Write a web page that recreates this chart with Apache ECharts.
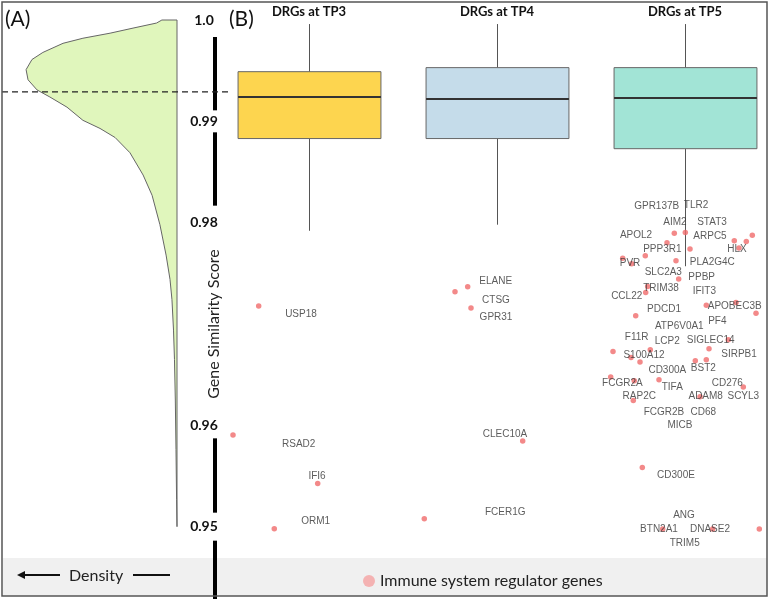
<!DOCTYPE html>
<html><head><meta charset="utf-8">
<script src="https://cdn.jsdelivr.net/npm/echarts@6/dist/echarts.min.js"></script>
<style>html,body{margin:0;padding:0;background:#fff}#c{width:770px;height:599px}</style>
</head><body><div id="c"></div>
<script>
// ---------- data ----------
const groups = ['DRGs at TP3', 'DRGs at TP4', 'DRGs at TP5'];
const boxMin    = [0.9792, 0.9798, 0.9757];
const boxQ1     = [0.9883, 0.9883, 0.9873];
const boxMedian = [0.9924, 0.9922, 0.9923];
const boxQ3     = [0.9949, 0.9953, 0.9953];
const boxMax    = [0.9996, 0.9996, 0.9996];

const refLine = 0.9929;

const tickValues = [1.0, 0.99, 0.98, 0.96, 0.95];
const tickText   = ['1.0', '0.99', '0.98', '0.96', '0.95'];
const axisTitle = 'Gene Similarity Score';
const axisTitleAt = 0.97;
// axis bar pieces run between these score values
const axisPieceFrom = [1.0, 0.99, 0.96, 0.95];
const axisPieceTo   = [0.99, 0.98, 0.95, 0.94];

// density outline (score, density)
const densityScore = [1.0, 1.0, 0.9997, 0.9992, 0.9987, 0.9982, 0.9977, 0.9968, 0.9961, 0.9951, 0.9941, 0.9931, 0.9924, 0.9914, 0.9901, 0.9893, 0.9884, 0.9869, 0.9847, 0.9827, 0.9798, 0.9768, 0.9744, 0.9724, 0.9694, 0.9665, 0.9625, 0.9576, 0.9527, 0.95];
const densityValue = [0, 5.4, 7.3, 15.7, 23.9, 33.6, 40.7, 47.9, 51.8, 53.9, 53.2, 50.0, 45.4, 39.3, 33.6, 27.5, 22.1, 16.8, 12.1, 8.9, 6.1, 3.9, 2.5, 1.8, 1.25, 0.9, 0.6, 0.36, 0.15, 0];

// immune system regulator gene points (group position with jitter, score)
const pointX = [0.7324, 1.7766, 1.8441, 1.8617, 0.5957, 2.1367, 1.0463, 1.6133, 0.8154,
  2.9431, 3.0016, 2.9043, 3.0266, 3.2622, 3.3261, 3.3580, 3.2872, 2.6686, 2.7888, 2.9521, 2.7165,
  2.9665, 2.8016, 2.7910, 3.1133, 3.2713, 3.3777, 2.7378, 3.2303, 3.1277, 2.6170, 2.8154, 2.7128,
  2.7606, 3.0548, 3.1133, 2.6048, 2.7303, 2.8617, 3.3101, 2.7250, 3.0798, 2.7729, 2.8814, 3.1473, 3.3952];
const pointY = [0.97177, 0.97318, 0.97367, 0.97157, 0.95904, 0.95845, 0.95427, 0.95079, 0.94980,
  0.97896, 0.97902, 0.97801, 0.97739, 0.97821, 0.97814, 0.97877, 0.97751, 0.97650, 0.97673, 0.97623, 0.97594,
  0.97443, 0.97370, 0.97311, 0.97186, 0.97212, 0.97107, 0.97081, 0.96844, 0.96755, 0.96729, 0.96746, 0.96670,
  0.96624, 0.96637, 0.96647, 0.96476, 0.96440, 0.96450, 0.96378, 0.96246, 0.96282, 0.95585, 0.94977, 0.94977, 0.94977];

// gene labels (name, x, score)
const geneNames = ['USP18', 'ELANE', 'CTSG', 'GPR31', 'RSAD2', 'CLEC10A', 'IFI6', 'FCER1G', 'ORM1',
  'GPR137B', 'TLR2', 'AIM2', 'STAT3', 'APOL2', 'ARPC5', 'PPP3R1', 'HLX', 'PVR', 'PLA2G4C', 'SLC2A3',
  'PPBP', 'TRIM38', 'IFIT3', 'CCL22', 'PDCD1', 'APOBEC3B', 'PF4', 'ATP6V0A1', 'F11R', 'LCP2', 'SIGLEC14',
  'SIRPB1', 'S100A12', 'CD300A', 'BST2', 'FCGR2A', 'TIFA', 'CD276', 'RAP2C', 'ADAM8', 'SCYL3', 'FCGR2B',
  'CD68', 'MICB', 'CD300E', 'ANG', 'BTN2A1', 'DNASE2', 'TRIM5'];
const geneLabelX = [0.9574, 1.9931, 1.9947, 1.9947, 0.9452, 2.0426, 1.0426, 2.0441, 1.0356,
  2.8495, 3.0585, 2.9468, 3.1436, 2.7394, 3.1330, 2.8793, 3.2766, 2.7074, 3.1452, 2.8846,
  3.0888, 2.8723, 3.1027, 2.6899, 2.8883, 3.2644, 3.1718, 2.9697, 2.7431, 2.9059, 3.1367,
  3.2872, 2.7819, 2.9059, 3.0973, 2.6670, 2.9324, 3.2250, 2.7569, 3.1101, 3.3101, 2.8883,
  3.0973, 2.9734, 2.9521, 2.9947, 2.8617, 3.1330, 2.9984];
const geneLabelY = [0.97098, 0.97426, 0.97239, 0.97071, 0.95812, 0.95910, 0.95500, 0.95145, 0.95049,
  0.98166, 0.98176, 0.98005, 0.98005, 0.97877, 0.97870, 0.97735, 0.97735, 0.97597, 0.97607, 0.97512,
  0.97463, 0.97354, 0.97327, 0.97275, 0.97143, 0.97173, 0.97032, 0.96982, 0.96867, 0.96828, 0.96837,
  0.96706, 0.96689, 0.96541, 0.96565, 0.96417, 0.96374, 0.96417, 0.96285, 0.96285, 0.96285, 0.96131,
  0.96131, 0.95996, 0.95503, 0.95111, 0.94970, 0.94970, 0.94832];

// ---------- styles ----------
const boxColors = ['#fdd54f', '#c5dcea', '#a2e4d6'];
const legendName = 'Immune system regulator genes';
const pieceGapTop = [17, 11, 13, 14];
const pieceGapBottom = [11, 17, 14, 0];

const chart = echarts.init(document.getElementById('c'));

const option = {
  backgroundColor: '#fff',
  animation: false,
  grid: [
    { left: 9, width: 168, top: 20, height: 608, outerBoundsMode: 'none', containLabel: false },
    { left: 215, width: 564, top: 20, height: 608, outerBoundsMode: 'none', containLabel: false }
  ],
  xAxis: [
    { type: 'category', gridIndex: 1, position: 'top', data: groups,
      axisLine: { show: false }, axisTick: { show: false }, splitLine: { show: false },
      axisLabel: { margin: 2, fontFamily: 'Lato', fontWeight: 'bold', fontSize: 13, color: '#111' } },
    { type: 'value', gridIndex: 1, min: 0.5, max: 3.5, show: false },
    { type: 'value', gridIndex: 0, min: 0, max: 60, inverse: true, show: false }
  ],
  yAxis: [
    { type: 'value', gridIndex: 1, min: 0.94, max: 1.0, interval: 0.01,
      axisLine: { show: false },
      axisTick: { show: false }, splitLine: { show: false },
      axisLabel: {
        margin: 11, align: 'center', fontFamily: 'Lato', fontWeight: 'bold', fontSize: 14, color: '#111',
        formatter: function (v) {
          for (let i = 0; i < tickValues.length; i++) {
            if (Math.abs(v - tickValues[i]) < 1e-6) return tickText[i];
          }
          return '';
        }
      }
    },
    { type: 'value', gridIndex: 0, min: 0.94, max: 1.0, show: false }
  ],
  legend: {
    data: [{ name: legendName, itemStyle: { color: '#f5a3a3' } }],
    left: 358, top: 568, icon: 'circle', itemWidth: 12, itemHeight: 12,
    textStyle: { fontFamily: 'Lato', fontSize: 16, color: '#222' }
  },
  series: [
    {
      type: 'custom', name: 'density', xAxisIndex: 2, yAxisIndex: 1, z: 1,
      data: densityScore.map((s, i) => [densityValue[i], s]),
      renderItem: function (params, api) {
        if (params.dataIndex !== 0) return null;
        const pts = densityScore.map((s, i) => api.coord([densityValue[i], s]));
        return { type: 'polygon', shape: { points: pts },
          style: { fill: '#e0f6bc', stroke: '#666', lineWidth: 1 } };
      }
    },
    {
      type: 'custom', name: 'box', xAxisIndex: 1, yAxisIndex: 0, z: 2,
      data: groups.map((g, i) => [i + 1, boxMin[i], boxQ1[i], boxMedian[i], boxQ3[i], boxMax[i]]),
      encode: { x: 0, y: [1, 2, 3, 4, 5] },
      renderItem: function (params, api) {
        const i = params.dataIndex;
        const x = api.value(0);
        const w = api.size([1, 0])[0] * 0.76;
        const pMin = api.coord([x, api.value(1)]);
        const pQ1 = api.coord([x, api.value(2)]);
        const pMed = api.coord([x, api.value(3)]);
        const pQ3 = api.coord([x, api.value(4)]);
        const pMax = api.coord([x, api.value(5)]);
        const cx = Math.round(pMed[0]) + 0.5;
        return { type: 'group', children: [
          { type: 'line', shape: { x1: cx, y1: pMax[1], x2: cx, y2: pQ3[1] }, style: { stroke: '#555', lineWidth: 1 } },
          { type: 'line', shape: { x1: cx, y1: pQ1[1], x2: cx, y2: pMin[1] }, style: { stroke: '#555', lineWidth: 1 } },
          { type: 'rect', shape: { x: cx - w / 2, y: pQ3[1], width: w, height: pQ1[1] - pQ3[1] },
            style: { fill: boxColors[i], stroke: '#666', lineWidth: 1 } },
          { type: 'line', shape: { x1: cx - w / 2, y1: pMed[1], x2: cx + w / 2, y2: pMed[1] },
            style: { stroke: '#333', lineWidth: 2 } }
        ] };
      }
    },
    {
      type: 'scatter', name: legendName, xAxisIndex: 1, yAxisIndex: 0, z: 3,
      symbolSize: 5.5, itemStyle: { color: '#f06b6b' },
      data: pointX.map((x, i) => [x, pointY[i]])
    },
    {
      type: 'scatter', name: 'labels', xAxisIndex: 1, yAxisIndex: 0, z: 4, silent: true,
      symbolSize: 0,
      label: { show: true, position: 'inside', formatter: '{b}', fontFamily: 'Liberation Sans',
        fontSize: 10, color: '#333' },
      data: geneNames.map((n, i) => ({ name: n, value: [geneLabelX[i], geneLabelY[i]] }))
    }
  ]
};
chart.setOption(option);

const yRef = chart.convertToPixel({ yAxisIndex: 0 }, refLine);
const yTitle = chart.convertToPixel({ yAxisIndex: 0 }, axisTitleAt);
const xAxisLine = chart.convertToPixel({ xAxisIndex: 1 }, 0.5);
const pieces = axisPieceFrom.map((a, i) => {
  const y1 = chart.convertToPixel({ yAxisIndex: 0 }, a) + pieceGapTop[i];
  const y2 = chart.convertToPixel({ yAxisIndex: 0 }, axisPieceTo[i]) - pieceGapBottom[i];
  return { type: 'rect', id: 'piece' + i, z: 30, shape: { x: xAxisLine - 2, y: y1, width: 4, height: y2 - y1 }, style: { fill: '#000' } };
});
chart.setOption({
  graphic: [
    { type: 'rect', id: 'strip', z: -1, shape: { x: 3, y: 558, width: 764, height: 38 }, style: { fill: '#f0f0f0' } },
    { type: 'rect', id: 'frame', z: 50, shape: { x: 2, y: 2, width: 765, height: 594 }, style: { fill: 'none', stroke: '#555', lineWidth: 1.5 } },
    { type: 'line', id: 'ref', z: 40, shape: { x1: 2, y1: yRef, x2: 231, y2: yRef }, style: { stroke: '#222', lineWidth: 1.2, lineDash: [6, 4] } },
    { type: 'text', id: 'title', z: 45, x: xAxisLine - 1, y: yTitle, rotation: Math.PI / 2,
      style: { text: axisTitle, font: '16px Lato', fill: '#222', align: 'center', verticalAlign: 'middle' } },
    { type: 'text', id: 'A', z: 50, x: 5, y: 19, style: { text: '(A)', font: '21px Lato', fill: '#111', verticalAlign: 'middle' } },
    { type: 'text', id: 'B', z: 50, x: 229, y: 19, style: { text: '(B)', font: '21px Lato', fill: '#111', verticalAlign: 'middle' } },
    { type: 'text', id: 'dens', z: 50, x: 69, y: 576, style: { text: 'Density', font: '16px Lato', fill: '#222', verticalAlign: 'middle' } },
    { type: 'line', id: 'arr1', z: 50, shape: { x1: 22, y1: 575, x2: 60, y2: 575 }, style: { stroke: '#111', lineWidth: 2 } },
    { type: 'polygon', id: 'arrh', z: 50, shape: { points: [[17, 575], [25, 571], [25, 579]] }, style: { fill: '#111' } },
    { type: 'line', id: 'arr2', z: 50, shape: { x1: 133, y1: 575, x2: 170, y2: 575 }, style: { stroke: '#111', lineWidth: 2 } }
  ].concat(pieces)
});
</script></body></html>
